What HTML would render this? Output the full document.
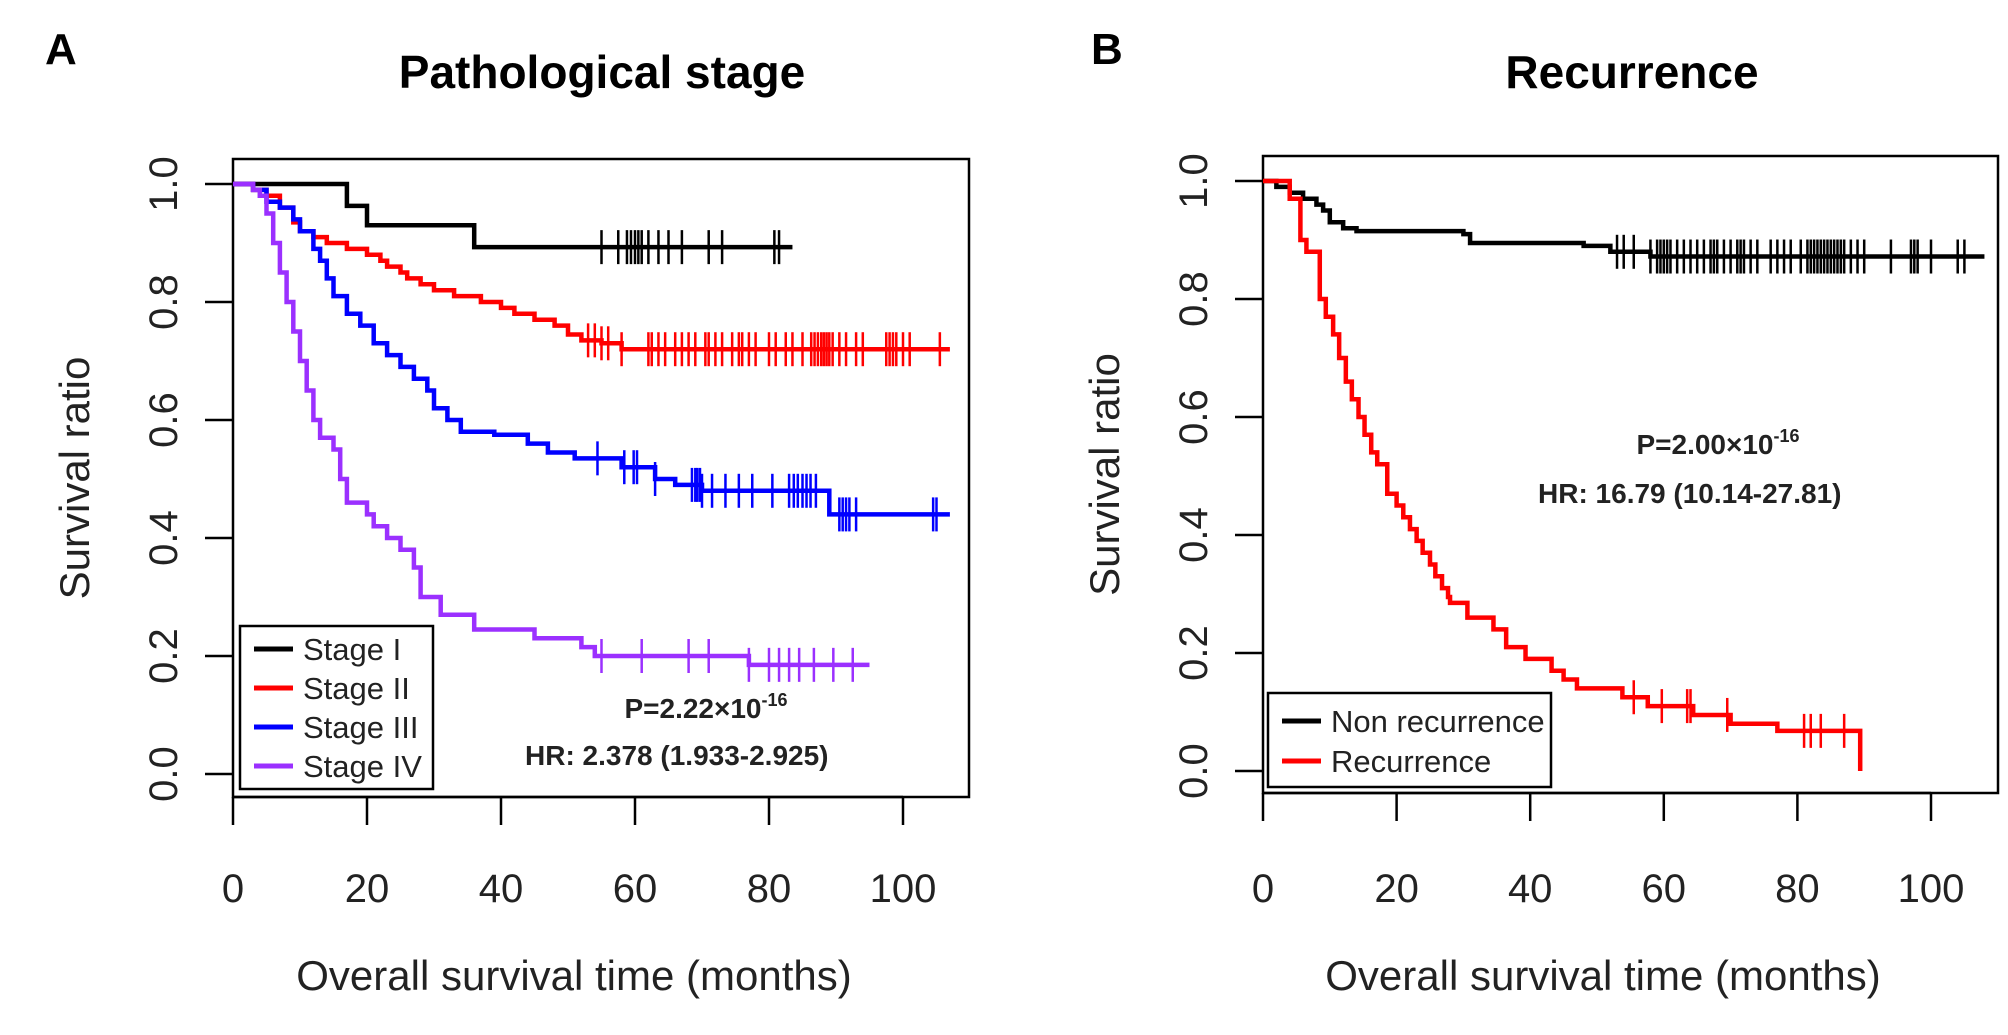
<!DOCTYPE html>
<html><head><meta charset="utf-8"><style>
html,body{margin:0;padding:0;background:#fff}
svg{display:block}
text{font-family:"Liberation Sans",Arial,sans-serif}
</style></head><body>
<svg id="fig" width="2008" height="1035" viewBox="0 0 2008 1035" xmlns="http://www.w3.org/2000/svg">
<text x="45" y="64" font-size="44" font-weight="bold">A</text>
<text x="602" y="88" font-size="46" font-weight="bold" text-anchor="middle">Pathological stage</text>
<text x="1091" y="64" font-size="44" font-weight="bold">B</text>
<text x="1632" y="88" font-size="46" font-weight="bold" text-anchor="middle">Recurrence</text>
<g id="pa"></g>
<g id="pb"></g>
</svg>
<script>
const xTicks=[0,20,40,60,80,100];
const yTicks=[0,0.2,0.4,0.6,0.8,1.0];
const yTickLabels=["0.0","0.2","0.4","0.6","0.8","1.0"];
// Panel A
const s1Times=[0,17,20,36];
const s1Surv=[1,0.963,0.93,0.893];
const s1End=83.5;
const s1Cens=[55,57.5,58.8,59.4,60,60.5,61,62,63.5,65,67,71,73,80.8,81.5];
const s2Times=[0,3,5,7,9,10,12,14,17,20,22,23,25,26,28,30,33,37,40,42,45,48,50,52,55,58];
const s2Surv=[1,0.99,0.98,0.96,0.935,0.92,0.91,0.9,0.89,0.88,0.87,0.86,0.85,0.84,0.83,0.82,0.81,0.8,0.79,0.78,0.77,0.76,0.745,0.735,0.73,0.72];
const s2End=107;
const s2Cens=[53,54,55,56,58,62,62.5,63.5,64.5,66,67,68,69,70.5,71,72,73,74.5,75.5,76,77,78,80,81,82.5,83.5,85,86.3,86.8,87.3,87.8,88.2,88.6,89,89.5,90.5,91.5,93,94,97.5,98,98.5,99,100,101,105.5];
const s3Times=[0,3,5,7,9,10,12,13,14,15,17,19,21,23,25,27,29,30,32,34,39,44,47,51,58,63,66,70,89];
const s3Surv=[1,0.99,0.97,0.96,0.94,0.92,0.89,0.87,0.84,0.81,0.78,0.76,0.73,0.71,0.69,0.67,0.65,0.62,0.6,0.58,0.575,0.56,0.545,0.535,0.52,0.5,0.49,0.48,0.44];
const s3End=107;
const s3Cens=[54.4,58.4,59.8,60.3,63,68.5,69,69.3,69.7,70,71.5,73.5,75.5,77.5,80.5,83,83.7,84.3,85,85.6,86.2,87,90.5,91,91.5,92,93,104.5,105];
const s4Times=[0,3,4,5,6,7,8,9,10,11,12,13,15,16,17,20,21,23,25,27,28,31,36,45,52,54,77];
const s4Surv=[1,0.99,0.98,0.95,0.9,0.85,0.8,0.75,0.7,0.65,0.6,0.57,0.55,0.5,0.46,0.44,0.42,0.4,0.38,0.35,0.3,0.27,0.245,0.23,0.215,0.2,0.185];
const s4End=95;
const s4Cens=[55,61,68,71,77,80,81.5,83,84.5,86.7,89.6,92.5];
// Panel B
const nrTimes=[0,2,4,6,8,9,10,12,14,30,31,48,52,58];
const nrSurv=[1,0.99,0.98,0.97,0.96,0.95,0.93,0.92,0.915,0.91,0.895,0.89,0.88,0.872];
const nrEnd=108;
const nrCens=[53,54,55.5,58,59,59.5,60,60.5,61,62,63,64,65,66,67,67.5,68,69,70,71,71.5,72,73,74,76,77,78,79,80.5,81.5,82,82.5,83,83.5,84,84.5,85,85.5,86,86.5,87,88,89,90,94,97,97.5,98,100,104,105];
const rTimes=[0,4,5.6,6.5,8.5,9.4,10.5,11.4,12.4,13.3,14.3,15.2,16.2,17.1,18.6,20,21,22,23,23.9,25,25.8,26.8,27.7,28,30.6,34.5,36.4,39.3,43.2,45,47,53.8,57.6,64.4,70,77,89.4];
const rSurv=[1,0.97,0.9,0.88,0.8,0.77,0.74,0.7,0.66,0.63,0.6,0.57,0.54,0.52,0.47,0.45,0.43,0.41,0.39,0.37,0.35,0.33,0.31,0.295,0.285,0.26,0.24,0.21,0.19,0.17,0.155,0.14,0.125,0.11,0.095,0.08,0.068,0];
const rEnd=89.4;
const rCens=[55.5,59.7,63.5,64,69.5,81,82,83.5,87];

const NS='http://www.w3.org/2000/svg';
function mk(tag,attrs,parent){const e=document.createElementNS(NS,tag);for(const k in attrs)e.setAttribute(k,attrs[k]);parent.appendChild(e);return e;}
function survAt(times,surv,t){let s=surv[0];for(let i=0;i<times.length;i++){if(times[i]<=t)s=surv[i];}return s;}

function panel(g,P,series,legend,pText,hrText){
  const sx=v=>P.x0+v*P.kx, sy=v=>P.y0-v*P.ky;
  const box=mk('rect',{x:P.L,y:P.T,width:P.R-P.L,height:P.B-P.T,fill:'none',stroke:'#000','stroke-width':2.5},g);
  
  
  const xa=mk('line',{x1:sx(0),x2:sx(100),y1:P.B,y2:P.B,stroke:'#000','stroke-width':2.5},g);
  
  
  xTicks.forEach(v=>{
    const t=mk('line',{x1:sx(v),x2:sx(v),y1:P.B,y2:P.B+28,stroke:'#000','stroke-width':2.5},g);
    
    
    const l=mk('text',{x:sx(v),y:902,'font-size':40,'text-anchor':'middle',fill:'#222'},g);l.textContent=v;
    
    
  });
  yTicks.forEach((v,i)=>{
    const t=mk('line',{x1:P.L-28,x2:P.L,y1:sy(v),y2:sy(v),stroke:'#000','stroke-width':2.5},g);
    
    
    const lx=P.L-70;
    const l=mk('text',{x:lx,y:sy(v),'font-size':40,'text-anchor':'middle',fill:'#222',transform:`rotate(-90 ${lx} ${sy(v)})`,dy:14},g);l.textContent=yTickLabels[i];
    
    
  });
  const yt=mk('text',{x:P.L-158,y:(P.T+P.B)/2,'font-size':42,'text-anchor':'middle',fill:'#222',transform:`rotate(-90 ${P.L-158} ${(P.T+P.B)/2})`,dy:14},g);yt.textContent='Survival ratio';
  
  
  const xt=mk('text',{x:(sx(0)+sx(100))/2+6,y:990,'font-size':42,'text-anchor':'middle',fill:'#222'},g);
  xt.textContent='Overall survival time  (months)';
  
  
  series.forEach(s=>{
    let d=`M${sx(s.t[0])},${sy(s.s[0])}`;
    for(let i=1;i<s.t.length;i++){d+=`H${sx(s.t[i])}V${sy(s.s[i])}`;}
    d+=`H${sx(s.end)}`;
    const p=mk('path',{d:d,fill:'none',stroke:s.c,'stroke-width':4.5},g);
    
    
    s.cens.forEach(ct=>{
      const y=sy(survAt(s.t,s.s,ct));
      const m=mk('line',{x1:sx(ct),x2:sx(ct),y1:y-17,y2:y+17,stroke:s.c,'stroke-width':2.5},g);
      
      
    });
  });
  const lg=mk('g',{},g);
  
  
  const lr=mk('rect',{x:legend.x,y:legend.y,width:legend.w,height:legend.h,fill:'#fff',stroke:'#000','stroke-width':2.5},lg);
  
  
  series.forEach((s,i)=>{
    const y=legend.y+legend.first+i*legend.step;
    const ln=mk('line',{x1:legend.x+14,x2:legend.x+53,y1:y,y2:y,stroke:s.c,'stroke-width':5},lg);
    
    
    const tx=mk('text',{x:legend.x+63,y:y+11,'font-size':31,fill:'#222'},lg);tx.textContent=s.label;
    
    
  });
  const pt=mk('text',{x:pText.x,y:pText.y,'font-size':28,'font-weight':'bold','text-anchor':'middle',fill:'#222'},g);
  pt.innerHTML=pText.t+'<tspan dy="-12" font-size="18">-16</tspan>';
  
  
  const ht=mk('text',{x:hrText.x,y:hrText.y,'font-size':28,'font-weight':'bold',fill:'#222'},g);
  ht.textContent=hrText.t;
  
  
}
panel(document.getElementById('pa'),
  {L:233,R:969,T:159,B:797,x0:233,kx:6.70,y0:774,ky:590},
  [{name:'stage-i',label:'Stage I',c:'#000',t:s1Times,s:s1Surv,end:s1End,cens:s1Cens},
   {name:'stage-ii',label:'Stage II',c:'#f00',t:s2Times,s:s2Surv,end:s2End,cens:s2Cens},
   {name:'stage-iii',label:'Stage III',c:'#00f',t:s3Times,s:s3Surv,end:s3End,cens:s3Cens},
   {name:'stage-iv',label:'Stage IV',c:'#9b30ff',t:s4Times,s:s4Surv,end:s4End,cens:s4Cens}],
  {x:240,y:626,w:193,h:163,first:23,step:39},
  {x:706,y:718,t:'P=2.22×10'},{x:525,y:765,t:'HR: 2.378 (1.933-2.925)'});
panel(document.getElementById('pb'),
  {L:1263,R:1998,T:156,B:793,x0:1263,kx:6.68,y0:771,ky:590},
  [{name:'non-recurrence',label:'Non recurrence',c:'#000',t:nrTimes,s:nrSurv,end:nrEnd,cens:nrCens},
   {name:'recurrence',label:'Recurrence',c:'#f00',t:rTimes,s:rSurv,end:rEnd,cens:rCens}],
  {x:1268,y:693,w:283,h:94,first:28,step:40},
  {x:1718,y:454,t:'P=2.00×10'},{x:1538,y:503,t:'HR: 16.79 (10.14-27.81)'});
</script>
</body></html>
